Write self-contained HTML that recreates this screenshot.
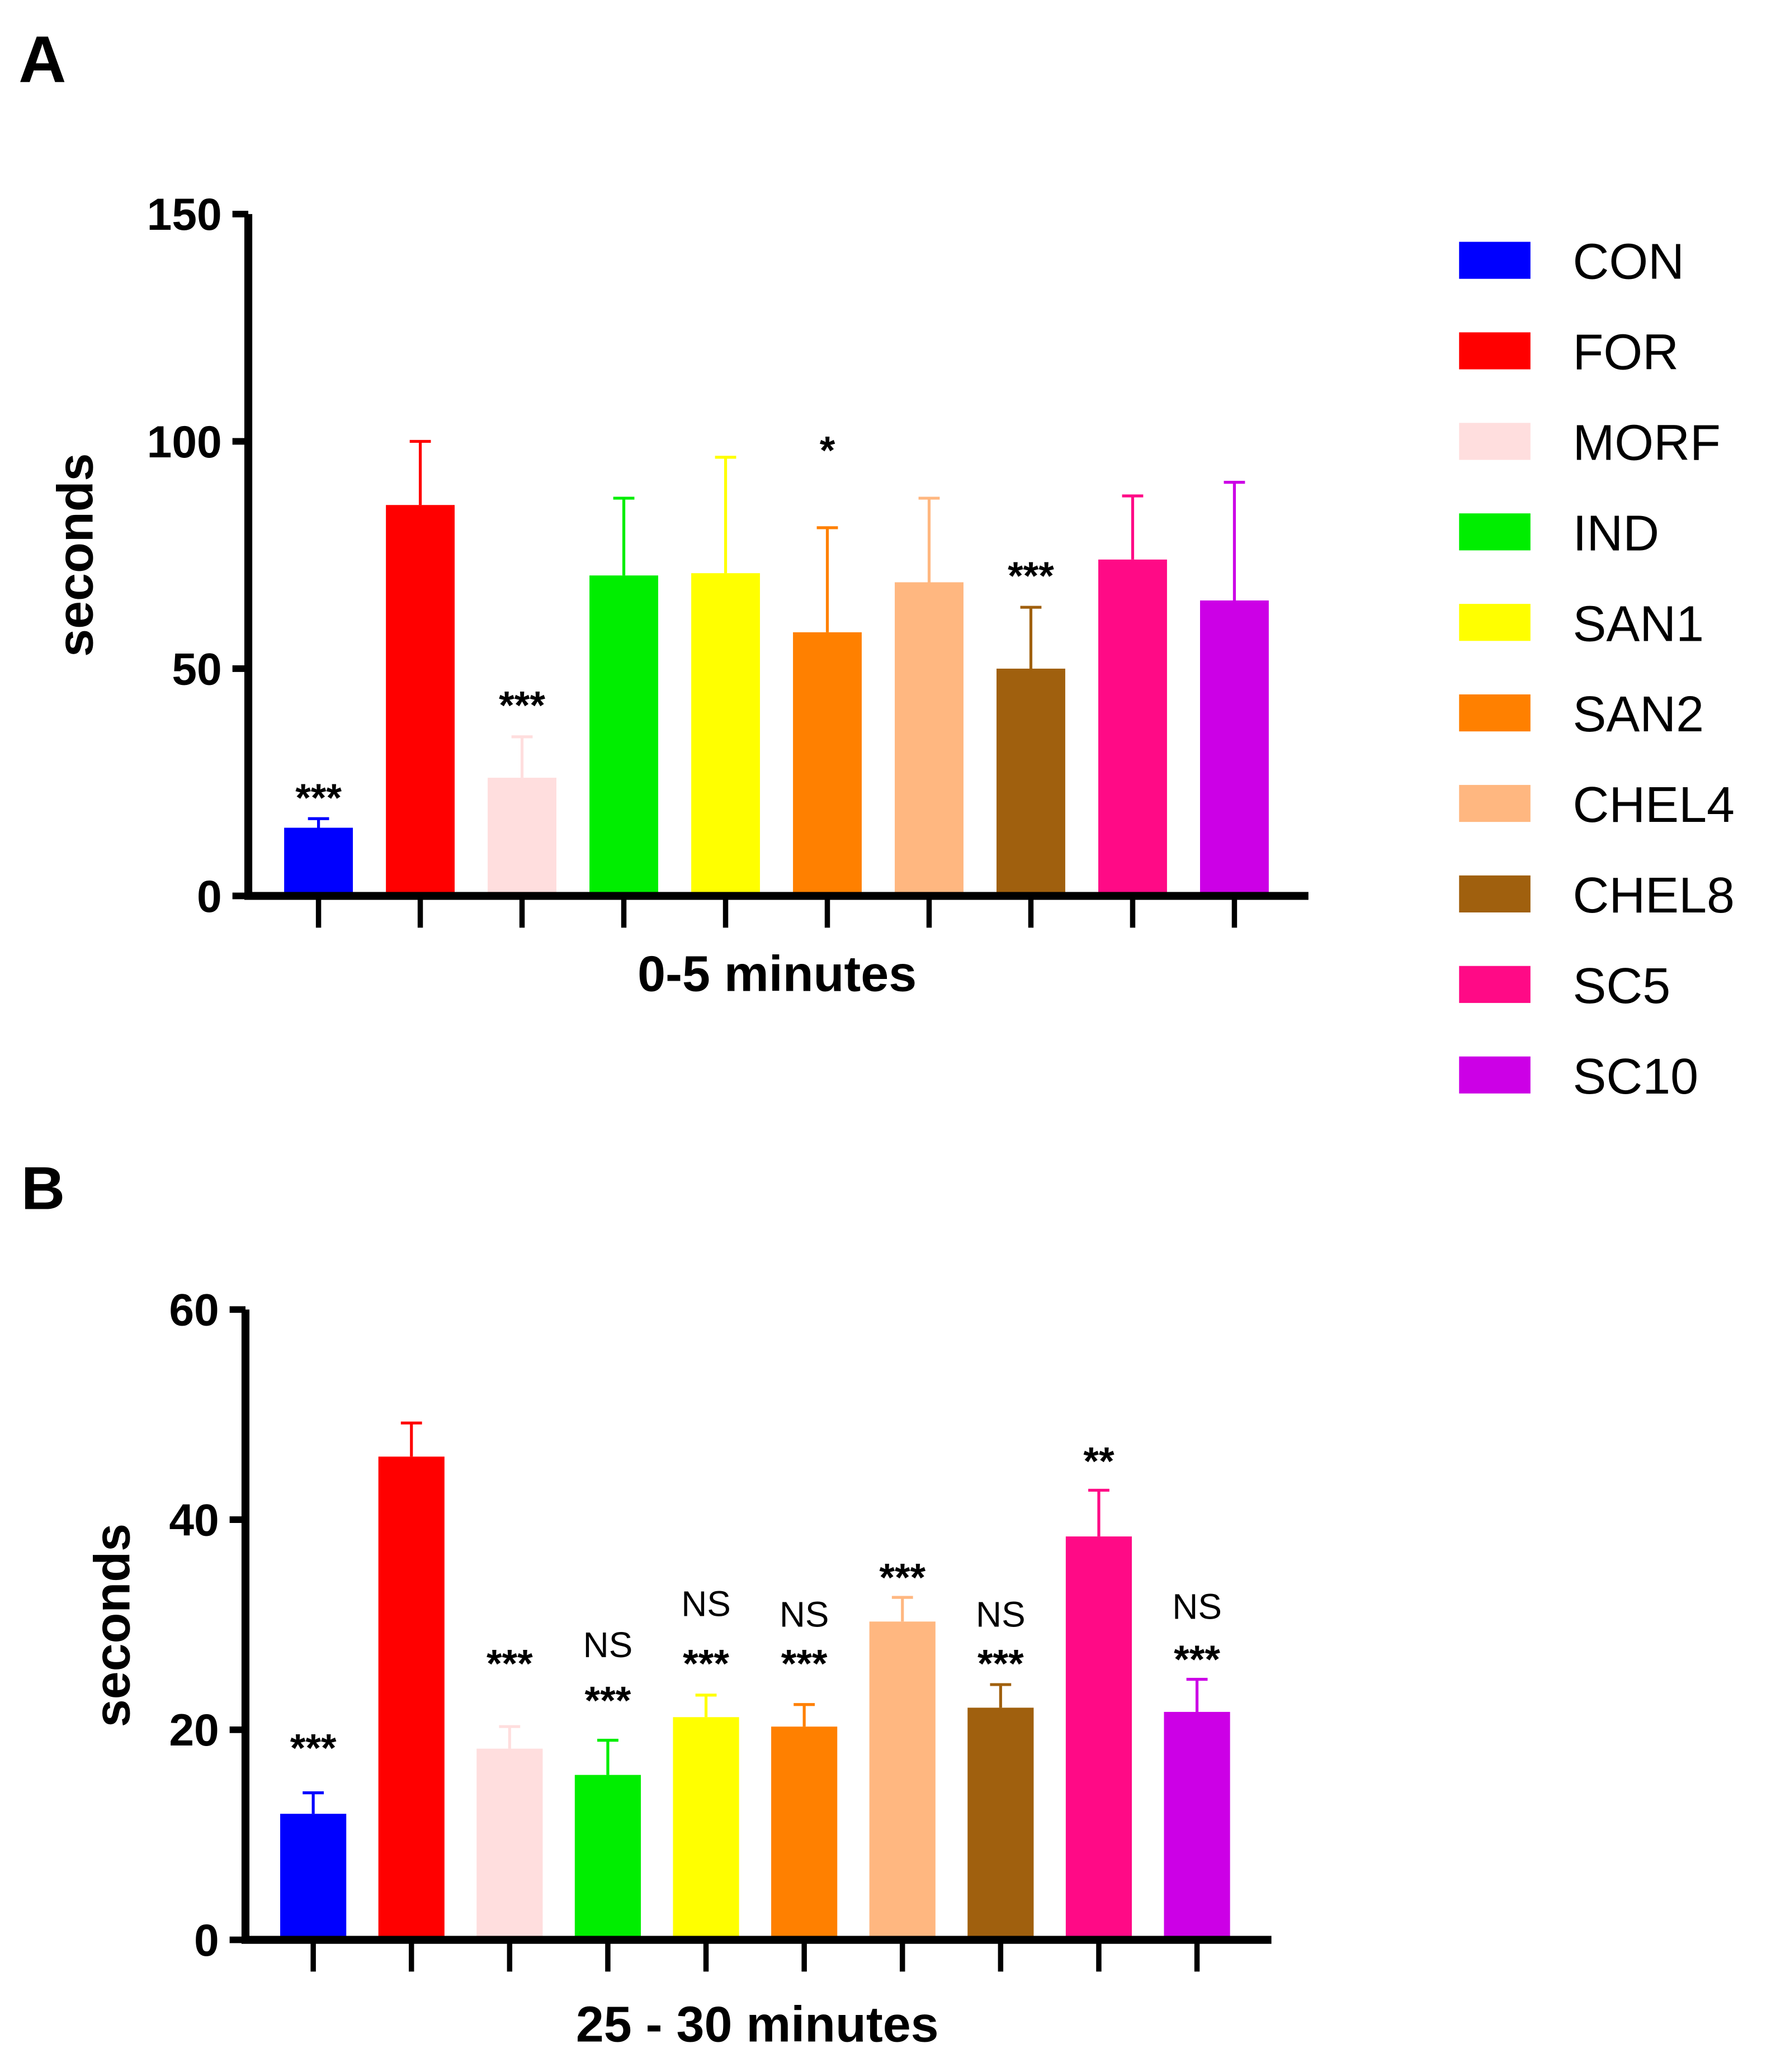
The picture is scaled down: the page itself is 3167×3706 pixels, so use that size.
<!DOCTYPE html>
<html><head><meta charset="utf-8"><style>
html,body{margin:0;padding:0;background:#fff;}
svg{display:block;}
text{font-family:"Liberation Sans",sans-serif;}
</style></head><body>
<svg id="fig" width="3167" height="3706" viewBox="0 0 1340 1568" preserveAspectRatio="none" xmlns="http://www.w3.org/2000/svg">
<rect width="1340" height="1568" fill="#fff"/>
<text x="14" y="62" font-size="50" font-weight="bold">A</text>
<text x="16" y="915" font-size="46" font-weight="bold">B</text>
<g id="chartA"></g>
<g id="chartB"></g>
<g id="legend"></g>
</svg>
<script>
const categories = ["CON","FOR","MORF","IND","SAN1","SAN2","CHEL4","CHEL8","SC5","SC10"];
const colors = ["#0000ff","#ff0000","#ffdede","#00ee00","#ffff00","#ff8000","#ffb780","#a0600e","#ff0a86","#cc00e6"];
const valuesA = [15,86,26,70.5,71,58,69,50,74,65];
const errTopA = [17,100,35,87.5,96.5,81,87.5,63.5,88,91];
const annotA = ["***","","***","","","*","","***","",""];
const annotYA = [600,0,530,0,0,337,0,432,0,0];
const ticksA = [0,50,100,150];
const valuesB = [12,46,18.2,15.7,21.2,20.3,30.3,22.1,38.4,21.7];
const errTopB = [14,49.2,20.3,19,23.3,22.4,32.6,24.3,42.8,24.8];
const starB = ["***","","***","***","***","***","***","***","**","***"];
const starYB = [1317,0,1253,1281,1253,1253,1188,1253,1100,1250];
const nsB = ["","","","NS","NS","NS","","NS","","NS"];
const nsYB = [0,0,0,1244,1213,1221,0,1221,0,1215];
const ticksB = [0,20,40,60];
const NS = "http://www.w3.org/2000/svg";
function mk(parent, tag, attrs, txt){
  const e = document.createElementNS(NS, tag);
  for (const k in attrs) e.setAttribute(k, attrs[k]);
  if (txt !== undefined) e.textContent = txt;
  parent.appendChild(e); return e;
}
function chart(g, cfg){
  const y = v => cfg.y0 - (v / cfg.max) * (cfg.y0 - cfg.yTop);
  const x = i => cfg.x0 + i * cfg.step;
  categories.forEach((c, i) => {
    const cx = x(i);
    const eb = mk(g, "path", {stroke:colors[i], "stroke-width":2.2, fill:"none"});
    
    
    eb.setAttribute('d', `M${cx} ${y(cfg.vals[i])} V${y(cfg.errs[i])} M${cx-8} ${y(cfg.errs[i])} H${cx+8}`);
    const r = mk(g, "rect", {x:cx - cfg.bw/2, y:y(cfg.vals[i]), width:cfg.bw, height:y(0)-y(cfg.vals[i]), fill:colors[i]});
    
    
    const t = mk(g, "line", {x1:cx, x2:cx, y1:cfg.y0, y2:cfg.y0+24, stroke:"#000", "stroke-width":4});
    
    
  });
  const ax0 = cfg.x0 - cfg.step*0.69;
  const ax = mk(g, "path", {d:`M${ax0} ${cfg.yTop} V${cfg.y0} H${cfg.xEnd}`, stroke:"#000", "stroke-width":6, fill:"none"});
  
  
  cfg.ticks.forEach(v => {
    const l = mk(g, "line", {x1:ax0-12, x2:ax0, y1:y(v), y2:y(v), stroke:"#000", "stroke-width":5});
    
    
    const tl = mk(g, "text", {x:ax0-20, y:y(v)+12, "font-size":34, "font-weight":"bold", "text-anchor":"end"}, String(v));
    
    
  });
  const yt = mk(g, "text", {x:0, y:0, "font-size":38, "font-weight":"bold", "text-anchor":"middle", transform:`translate(${cfg.ytx},${cfg.yty}) rotate(-90)`}, "seconds");
  
  
  const xt = mk(g, "text", {x:cfg.xtx, y:cfg.xty, "font-size":38, "font-weight":"bold", "text-anchor":"middle"}, cfg.xtitle);
  
  
  return {x, y};
}
const A = chart(document.getElementById("chartA"), {x0:241, step:77, bw:52, y0:678, yTop:162, max:150, xEnd:990, vals:valuesA, errs:errTopA, ticks:ticksA, ytx:70, yty:420, xtx:588, xty:750, xtitle:"0-5 minutes"});
annotA.forEach((s, i) => {
  if (!s) return;
  const t = mk(document.getElementById("chartA"), "text", {x:A.x(i), y:annotYA[i]+14, "font-size":30, "font-weight":"bold", "text-anchor":"middle"}, s);
  
  
});
const B = chart(document.getElementById("chartB"), {x0:237, step:74.3, bw:50, y0:1468, yTop:991, max:60, xEnd:962, vals:valuesB, errs:errTopB, ticks:ticksB, ytx:98, yty:1230, xtx:573, xty:1545, xtitle:"25 - 30 minutes"});
starB.forEach((s, i) => {
  if (!s) return;
  const t = mk(document.getElementById("chartB"), "text", {x:B.x(i), y:starYB[i]+16, "font-size":30, "font-weight":"bold", "text-anchor":"middle"}, s);
  
  
});
nsB.forEach((s, i) => {
  if (!s) return;
  const t = mk(document.getElementById("chartB"), "text", {x:B.x(i), y:nsYB[i]+10, "font-size":27, "text-anchor":"middle"}, s);
  
  
});
const lg = document.getElementById("legend");
categories.forEach((c, i) => {
  const yy = 197 + i * 68.5;
  const r = mk(lg, "rect", {x:1104, y:yy-14, width:54, height:28, fill:colors[i]});
  
  
  const t = mk(lg, "text", {x:1190, y:yy+14, "font-size":38}, c);
  
  
});
</script>
</body></html>
